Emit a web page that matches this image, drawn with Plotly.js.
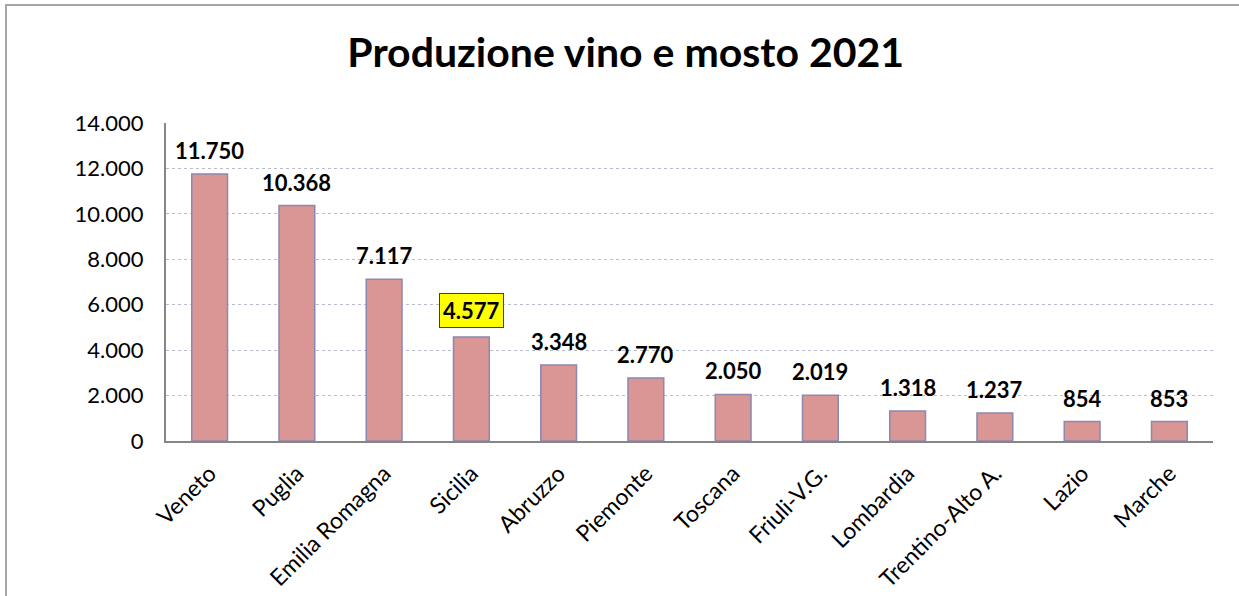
<!DOCTYPE html>
<html><head><meta charset="utf-8">
<script src="https://cdn.plot.ly/plotly-3.0.1.min.js"></script>
<style>
html,body{margin:0;padding:0;background:#fff;overflow:hidden;}
#chart{width:1239px;height:596px;}
#frame{position:absolute;left:5px;top:4px;width:1240px;height:600px;border-left:2px solid #a6a6a6;border-top:2px solid #a6a6a6;pointer-events:none;}
</style></head>
<body>
<div id="chart"></div>
<div id="frame"></div>
<script>
const regions = ["Veneto","Puglia","Emilia Romagna","Sicilia","Abruzzo","Piemonte","Toscana","Friuli-V.G.","Lombardia","Trentino-Alto A.","Lazio","Marche"];
const production = [11750,10368,7117,4577,3348,2770,2050,2019,1318,1237,854,853];
const highlighted = ["Sicilia"];
const yTicks = [0,2000,4000,6000,8000,10000,12000,14000];

function fmt(v){ return String(v).replace(/\B(?=(\d{3})+(?!\d))/g, "."); }

const FONT = "Lato, 'Open Sans', sans-serif";

const trace = {
  type: "bar",
  x: regions,
  y: production,
  width: 0.41,
  marker: {color: "#D99694", line: {color: "#8C88B0", width: 1.5}},
  hoverinfo: "x+y"
};

const annotations = regions.map((r,i)=>{
  const hl = highlighted.includes(r);
  return {
    x: r, y: production[i], xref: "x", yref: "y",
    text: "<b>"+fmt(production[i])+"</b>",
    showarrow: false, yanchor: "bottom", yshift: hl ? 9 : 10,
    font: {family: FONT, size: 22, color: "#000"},
    bgcolor: hl ? "#FFFF00" : "rgba(0,0,0,0)",
    bordercolor: hl ? "#404040" : "rgba(0,0,0,0)",
    borderwidth: hl ? 1 : 0, borderpad: hl ? 3 : 0
  };
});

const layout = {
  width: 1239, height: 596,
  margin: {l: 166, r: 26, t: 123, b: 155},
  paper_bgcolor: "#fff", plot_bgcolor: "#fff",
  separators: ",.",
  showlegend: false,
  title: {text: "<b>Produzione vino e mosto 2021</b>", x: 0.505, xanchor: "center", y: 0.912, yanchor: "middle",
          font: {family: FONT, size: 41, color: "#000"}},
  xaxis: {
    type: "category", tickangle: -45, showgrid: false,
    showline: true, linecolor: "#868686", linewidth: 2,
    ticks: "", ticklabelstandoff: 8, tickfont: {family: FONT, size: 23, color: "#000"}
  },
  yaxis: {
    range: [0,14000], tickvals: yTicks, ticktext: yTicks.map(fmt),
    showgrid: true, gridcolor: "#b7bdca", griddash: "dot", gridwidth: 1,
    showline: true, linecolor: "#868686", linewidth: 2,
    zeroline: false, ticks: "", ticklabelstandoff: 16,
    tickfont: {family: FONT, size: 22, color: "#000"}
  },
  annotations: annotations
};

Plotly.newPlot("chart", [trace], layout, {displayModeBar: false, staticPlot: true});
</script>
</body></html>
